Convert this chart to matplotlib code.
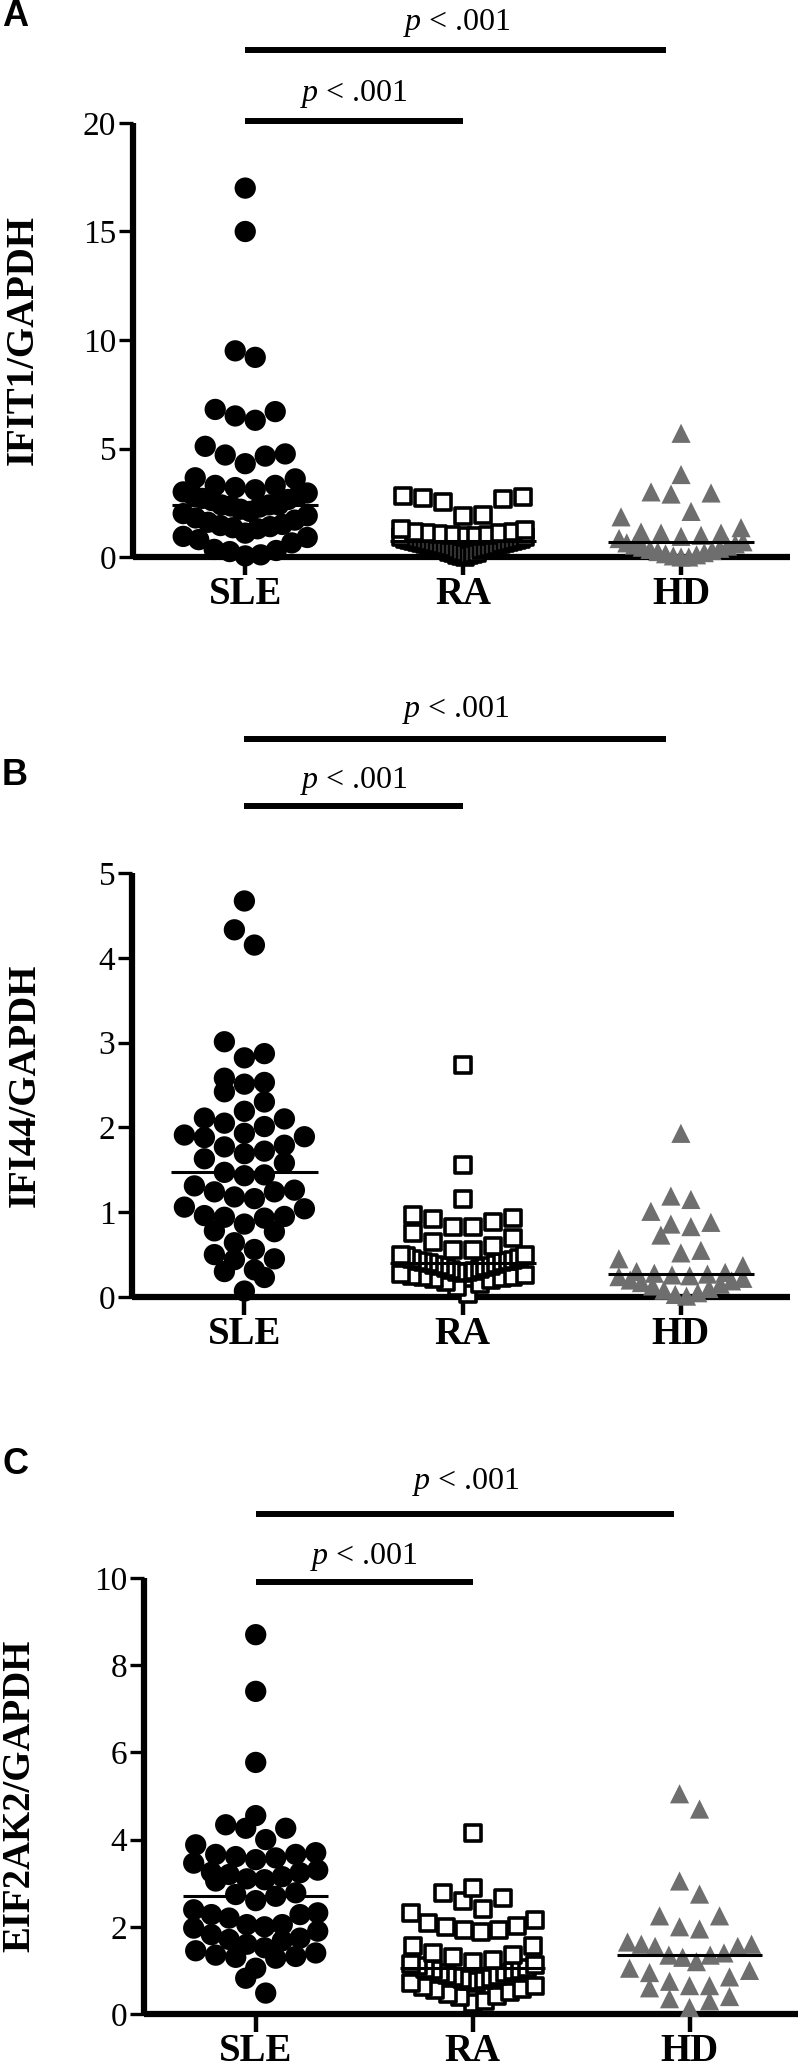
import numpy as np
import matplotlib
matplotlib.use("Agg")
import matplotlib.pyplot as plt

plt.rcParams['font.family'] = ['Liberation Serif', 'DejaVu Serif']
plt.rcParams['mathtext.fontset'] = 'custom'
plt.rcParams['mathtext.it'] = 'Liberation Serif:italic'
plt.rcParams['mathtext.rm'] = 'Liberation Serif'

groups = ['SLE', 'RA', 'HD']

# panel A - IFIT1
ifit1_sle = [17.0, 15.0, 9.5, 9.2, 6.8, 6.7, 6.5, 6.3, 5.1, 4.75, 4.7, 4.65, 4.3, 3.65, 3.6,
             3.3, 3.3, 3.2, 3.1, 3.0, 2.95, 2.85, 2.8, 2.7, 2.65, 2.6,
             2.4, 2.4, 2.4, 2.35, 2.3, 2.2, 2.1, 2.0, 1.9, 1.8, 1.7, 1.6, 1.5, 1.45, 1.4, 1.35, 1.3,
             1.1, 0.95, 0.9, 0.8, 0.65, 0.35, 0.3, 0.25, 0.1, 0.05]
ifit1_ra = [2.8, 2.75, 2.7, 2.65, 2.55, 1.95, 1.9, 1.3, 1.25,
            1.15, 1.15, 1.1, 1.1, 1.05, 1.0, 1.0, 0.95, 0.95, 0.9, 0.9, 0.85, 0.85, 0.8, 0.8,
            0.75, 0.75, 0.7, 0.7, 0.65, 0.65, 0.6, 0.6, 0.55, 0.5, 0.5, 0.45, 0.45, 0.4, 0.4,
            0.35, 0.3, 0.3, 0.25, 0.2, 0.2, 0.15, 0.1, 0.1, 0.05, 0.0]
ifit1_hd = [5.7, 3.8, 3.0, 2.95, 2.9, 2.1, 1.85, 1.35, 1.15, 1.1, 1.1,
            1.0, 0.95, 0.85, 0.7, 0.65, 0.6, 0.55, 0.5, 0.45, 0.4, 0.35, 0.3, 0.25, 0.2,
            0.15, 0.1, 0.05, 0.0, 0.0]

# panel B - IFI44
ifi44_sle = [4.67, 4.33, 4.15, 3.01, 2.82, 2.87, 2.58, 2.51, 2.42, 2.53, 2.30, 2.11, 2.05, 2.10,
             2.19, 2.01, 1.91, 1.88, 1.77, 1.72, 1.79, 1.89, 1.93, 1.63, 1.58, 1.69, 1.47, 1.43,
             1.44, 1.26, 1.24, 1.16, 1.06, 1.18, 1.24, 1.31, 0.96, 0.94, 0.86, 0.77, 0.78, 0.93,
             0.95, 1.04, 0.56, 0.64, 0.45, 0.44, 0.50, 0.30, 0.32, 0.23, 0.07]
ifi44_ra = [2.73, 1.56, 1.16, 0.97, 0.93, 0.92, 0.88, 0.83, 0.82, 0.75, 0.7, 0.65, 0.6, 0.55,
            0.55, 0.5, 0.5, 0.48, 0.46, 0.45, 0.44, 0.43, 0.42, 0.41, 0.41, 0.40, 0.39, 0.38,
            0.37, 0.36, 0.35, 0.34, 0.33, 0.32, 0.31, 0.30, 0.29, 0.28, 0.27, 0.26, 0.25, 0.24,
            0.23, 0.22, 0.21, 0.2, 0.18, 0.15, 0.12, 0.04]
ifi44_hd = [1.93, 1.19, 1.15, 1.01, 0.88, 0.86, 0.83, 0.73, 0.55, 0.52, 0.45, 0.37,
            0.3, 0.29, 0.28, 0.27, 0.26, 0.25, 0.24, 0.22, 0.2, 0.19, 0.17, 0.15, 0.13, 0.1,
            0.08, 0.05, 0.03, 0.01]

# panel C - EIF2AK2
eif_sle = [8.7, 7.4, 5.77, 4.55, 4.34, 4.26, 4.26, 4.0, 3.88, 3.7, 3.66, 3.66, 3.61, 3.58, 3.54,
           3.46, 3.24, 3.3, 3.25, 3.2, 3.15, 3.1, 3.08, 3.05, 2.78, 2.74, 2.7, 2.6,
           2.39, 2.32, 2.28, 2.28, 2.2, 2.05, 2.05, 2.0, 1.97, 1.9, 1.82, 1.71,
           1.74, 1.68, 1.6, 1.52, 1.45, 1.4, 1.35, 1.32, 1.3, 1.28, 1.05, 0.82, 0.48]
eif_ra = [4.15, 2.89, 2.77, 2.66, 2.6, 2.4, 2.32, 2.16, 2.09, 2.01, 1.99, 1.93, 1.93, 1.89,
          1.55, 1.55, 1.4, 1.35, 1.3, 1.25, 1.2, 1.15, 1.12, 1.1, 1.06, 1.04, 1.02, 1.0, 0.98,
          0.95, 0.93, 0.9, 0.88, 0.85, 0.82, 0.8, 0.78, 0.75, 0.72, 0.7, 0.65, 0.62, 0.58,
          0.55, 0.5, 0.45, 0.42, 0.38, 0.3, 0.25]
eif_hd = [5.05, 4.7, 3.05, 2.75, 2.25, 2.25, 2.0, 1.95, 1.65, 1.6, 1.6, 1.55, 1.55, 1.35, 1.4,
          1.35, 1.3, 1.2, 1.05, 1.0, 0.95, 0.85, 0.75, 0.65, 0.6, 0.65, 0.4, 0.35, 0.3, 0.15]

panels = [
    dict(letter='A', ylabel='IFIT1/GAPDH', data=[ifit1_sle, ifit1_ra, ifit1_hd],
         ymax=20, yticks=[0, 5, 10, 15, 20],
         bars=[20.1, 23.35], ptext=[21.0, 24.3]),
    dict(letter='B', ylabel='IFI44/GAPDH', data=[ifi44_sle, ifi44_ra, ifi44_hd],
         ymax=5, yticks=[0, 1, 2, 3, 4, 5],
         bars=[5.79, 6.58], ptext=[6.0, 6.84]),
    dict(letter='C', ylabel='EIF2AK2/GAPDH', data=[eif_sle, eif_ra, eif_hd],
         ymax=10, yticks=[0, 2, 4, 6, 8, 10],
         bars=[9.91, 11.47], ptext=[10.32, 12.04]),
]

# layout in pixels (figure 800 x 2072)
W, H = 800, 2072
axes_px = [(133, 790, 123, 557), (132, 790, 873, 1297), (144, 798, 1578, 2014)]
ylabel_x = [23, 25, 20]
letter_y = [17, 775, 1465]

fig = plt.figure(figsize=(W / 100, H / 100), dpi=100)


def swarm(vals, ax, cat, d=20.0, h=20.0, half=62.0):
    # row-binned scatter like Prism: lowest value of a row in the middle
    bbox = ax.get_window_extent()
    x0, x1 = ax.get_xlim()
    y0, y1 = ax.get_ylim()
    sx = bbox.width / (x1 - x0)
    sy = bbox.height / (y1 - y0)
    v = np.sort(np.asarray(vals, dtype=float))
    offs = np.zeros(len(v))
    i = 0
    while i < len(v):
        j = i
        while j < len(v) and (v[j] - v[i]) * sy < h:
            j += 1
        n = j - i
        s = d if n == 1 else min(d, 2 * half / (n - 1))
        slots = (np.arange(n) - (n - 1) / 2) * s
        order = sorted(range(n), key=lambda k: (round(abs(slots[k]), 6), slots[k] < 0))
        for r in range(n):
            offs[i + r] = slots[order[r]]
        i = j
    return cat + offs / sx, v


styles = [
    dict(marker='o', s=235, c='black', edgecolors='none'),
    dict(marker='s', s=145, facecolors='white', edgecolors='black', linewidths=2.6),
    dict(marker='^', s=190, c='#6e6e6e', edgecolors='none'),
]

for k, p in enumerate(panels):
    l, r, t, b = axes_px[k]
    ax = fig.add_axes([l / W, 1 - b / H, (r - l) / W, (b - t) / H])
    ax.set_xlim(0.485, 3.5)
    ax.set_ylim(0, p['ymax'])
    for side in ['top', 'right']:
        ax.spines[side].set_visible(False)
    for side in ['left', 'bottom']:
        ax.spines[side].set_linewidth(4.5)
        ax.spines[side].set_capstyle('butt')
    ax.set_yticks(p['yticks'])
    ax.set_xticks([1, 2, 3])
    ax.set_xticklabels(groups, fontweight='bold')
    ax.tick_params(axis='y', length=10, width=2.4, pad=2, labelsize=24)
    ax.tick_params(axis='x', length=13, width=3.2, pad=1, labelsize=28)

    for g, vals in enumerate(p['data']):
        cat = g + 1
        xs, ys = swarm(vals, ax, cat)
        ax.scatter(xs, ys, clip_on=False, zorder=3, **styles[g])
        med = np.median(vals)
        ax.hlines(med, cat - 0.335, cat + 0.335, colors='black', lw=2.2, zorder=4)

    # significance bars
    ax.plot([1.0, 2.0], [p['bars'][0]] * 2, color='black', lw=4.3, clip_on=False,
            solid_capstyle='butt')
    ax.plot([1.0, 2.93], [p['bars'][1]] * 2, color='black', lw=4.3, clip_on=False,
            solid_capstyle='butt')
    ax.text(1.5, p['ptext'][0], r'$p$ < .001', ha='center', va='baseline', fontsize=23)
    ax.text(1.97, p['ptext'][1], r'$p$ < .001', ha='center', va='baseline', fontsize=23)

    fig.text(ylabel_x[k] / W, 1 - (t + b) / 2 / H, p['ylabel'], rotation=90,
             ha='center', va='center', fontsize=28, fontweight='bold')
    fig.text(2 / W, 1 - letter_y[k] / H, p['letter'], ha='left', va='center',
             fontsize=26, fontweight='bold', family=['Liberation Sans', 'DejaVu Sans'])

fig.savefig('out.png', dpi=100)
